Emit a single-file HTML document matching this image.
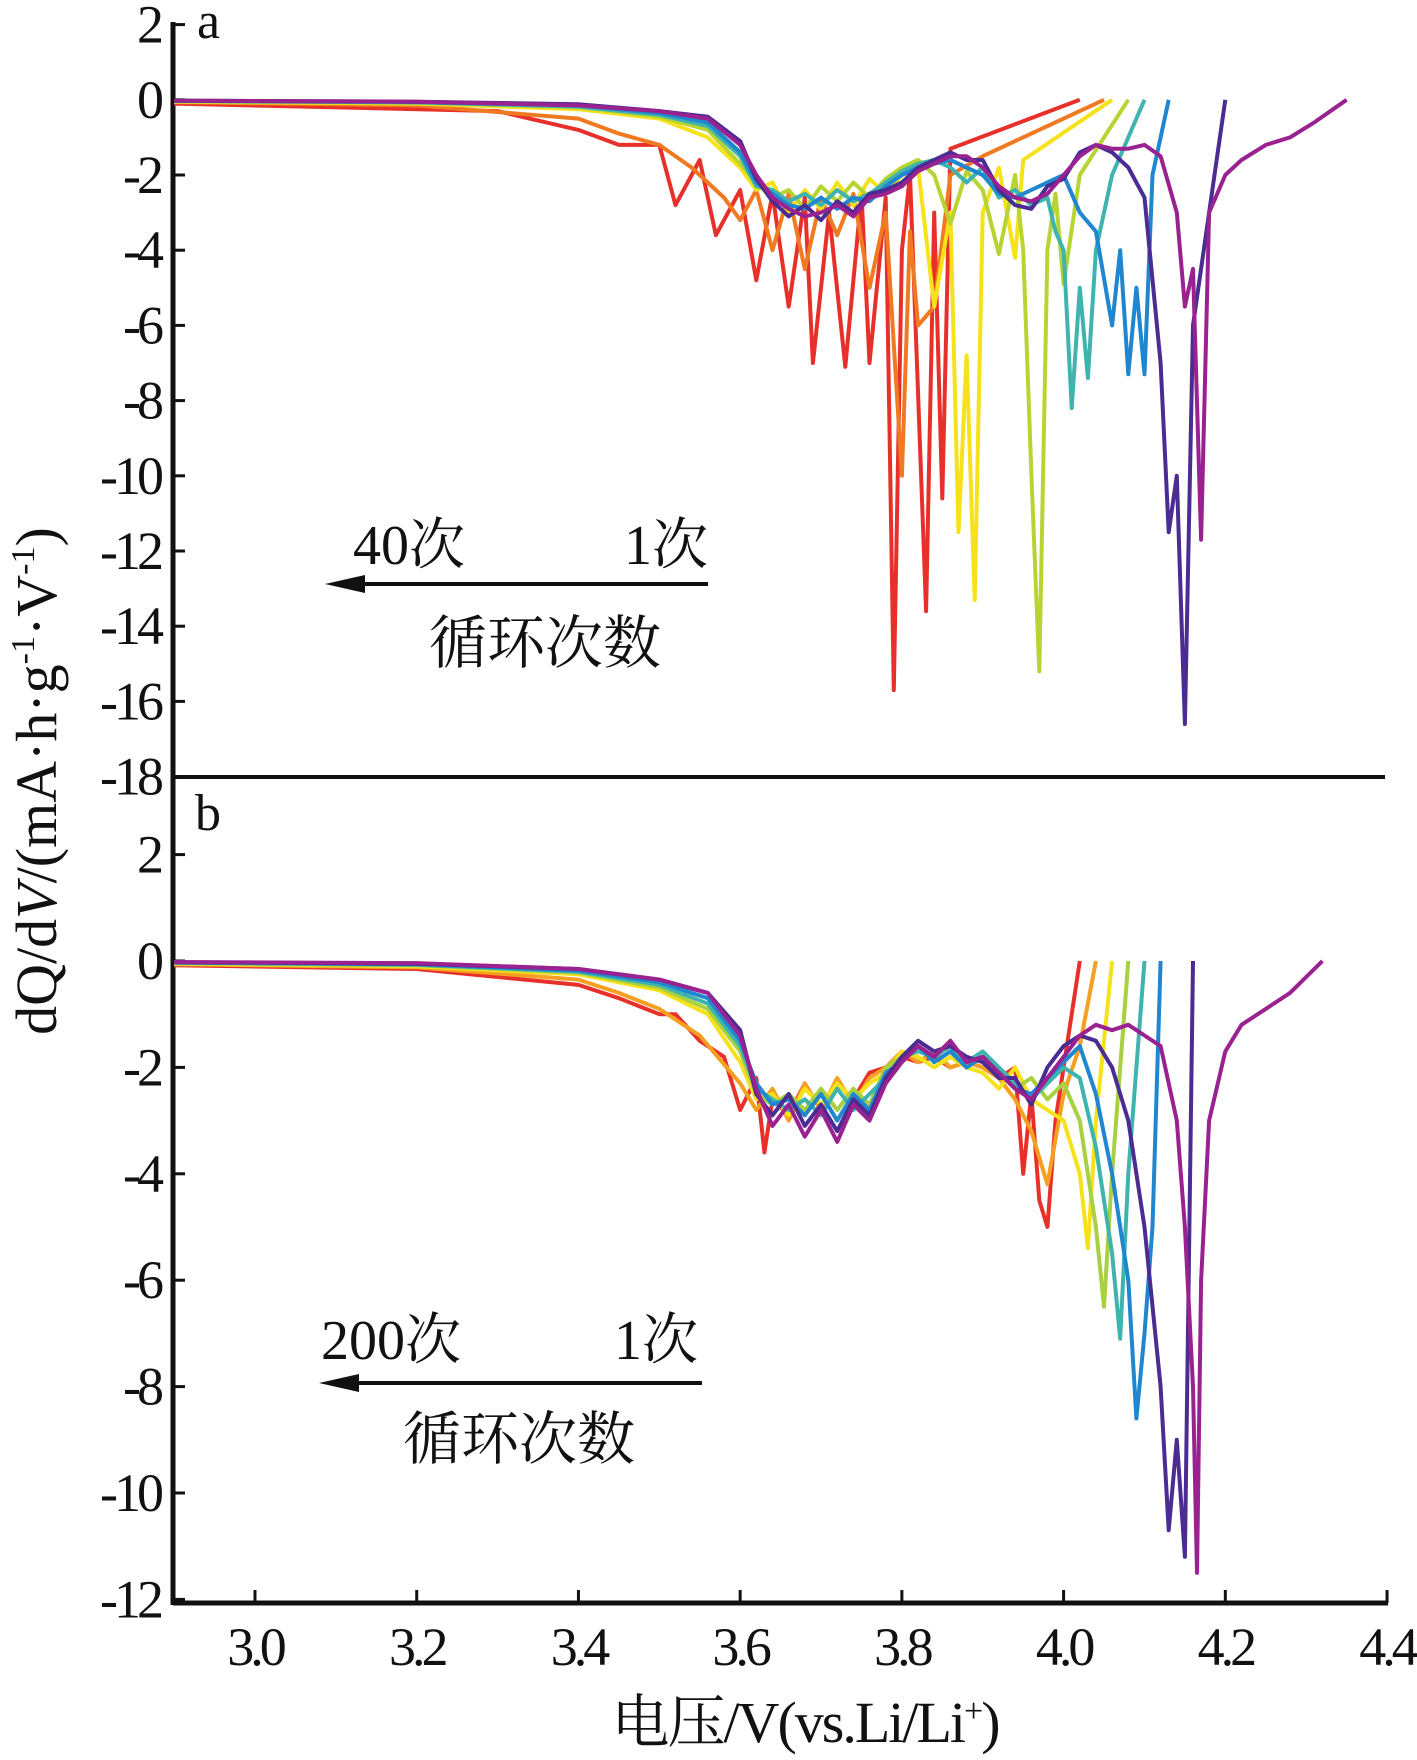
<!DOCTYPE html>
<html><head><meta charset="utf-8"><style>
body{margin:0;background:#fff}
svg{display:block}
text{font-family:"Liberation Serif","Noto Serif CJK SC",serif;fill:#111}
</style></head><body>
<svg id="chart" width="1417" height="1760" viewBox="0 0 1417 1760" xmlns="http://www.w3.org/2000/svg">
<g id="axes"></g>
<g id="series"></g>
<g id="labels"></g>
</svg>
<script>
// ---- data ----
const xTicks = [3.0, 3.2, 3.4, 3.6, 3.8, 4.0, 4.2, 4.4];
const yTicksA = [2, 0, -2, -4, -6, -8, -10, -12, -14, -16, -18];
const yTicksB = [2, 0, -2, -4, -6, -8, -10, -12];

// panel a (cycles 1 -> 40)
const aPurpleV = [2.9,3.2,3.4,3.5,3.56,3.6,3.62,3.64,3.66,3.68,3.7,3.72,3.74,3.76,3.78,3.8,3.82,3.84,3.86,3.88,3.9,3.92,3.94,3.96,3.98,4.0,4.02,4.04,4.06,4.08,4.1,4.12,4.14,4.15,4.16,4.17,4.18,4.2,4.22,4.25,4.28,4.31,4.35];
const aPurpleY = [-0.02,-0.05,-0.15,-0.3,-0.5,-1.2,-2.0,-2.6,-2.9,-3.1,-3.0,-2.8,-3.1,-2.6,-2.5,-2.3,-1.9,-1.7,-1.5,-1.5,-1.8,-2.3,-2.6,-2.7,-2.5,-2.0,-1.5,-1.2,-1.3,-1.3,-1.2,-1.5,-3.0,-5.5,-4.5,-11.7,-3.0,-2.0,-1.6,-1.2,-1.0,-0.6,0];
const aIndigoV = [2.9,3.2,3.4,3.5,3.56,3.6,3.62,3.64,3.66,3.68,3.7,3.72,3.74,3.76,3.78,3.8,3.82,3.84,3.86,3.88,3.9,3.92,3.94,3.96,3.98,4.0,4.02,4.04,4.06,4.08,4.1,4.12,4.13,4.14,4.15,4.16,4.18,4.2];
const aIndigoY = [-0.02,-0.05,-0.12,-0.3,-0.45,-1.1,-2.1,-2.7,-3.1,-2.8,-3.2,-2.7,-3.0,-2.5,-2.4,-2.2,-1.8,-1.6,-1.4,-1.6,-1.6,-2.4,-2.8,-2.9,-2.3,-2.1,-1.4,-1.2,-1.4,-1.8,-2.6,-7.0,-11.5,-10.0,-16.6,-6.0,-3.0,0];
const aBlueV = [2.9,3.2,3.4,3.5,3.56,3.6,3.62,3.64,3.66,3.68,3.7,3.72,3.74,3.76,3.78,3.8,3.82,3.84,3.86,3.88,3.9,3.92,3.94,3.96,3.98,4.0,4.02,4.04,4.06,4.07,4.08,4.09,4.1,4.11,4.12,4.13];
const aBlueY = [-0.03,-0.06,-0.15,-0.35,-0.6,-1.4,-2.2,-2.5,-2.8,-2.9,-2.6,-2.9,-2.6,-2.7,-2.3,-2.0,-1.8,-1.7,-1.6,-1.8,-2.0,-2.5,-2.6,-2.4,-2.2,-2.0,-3.0,-3.5,-6.0,-4.0,-7.3,-5.0,-7.3,-2.0,-1.0,0];
const aTealV = [2.9,3.2,3.4,3.5,3.56,3.6,3.62,3.64,3.66,3.68,3.7,3.72,3.74,3.76,3.78,3.8,3.82,3.84,3.86,3.88,3.9,3.92,3.94,3.96,3.98,3.99,4.0,4.01,4.02,4.03,4.04,4.06,4.08,4.1];
const aTealY = [-0.03,-0.07,-0.18,-0.4,-0.7,-1.5,-2.3,-2.4,-2.7,-2.5,-2.8,-2.4,-2.7,-2.5,-2.2,-1.9,-1.7,-1.6,-1.8,-2.2,-1.8,-2.6,-2.4,-2.8,-2.6,-3.5,-4.0,-8.2,-5.0,-7.4,-4.0,-2.0,-1.0,0];
const aLimeV = [2.9,3.2,3.4,3.5,3.56,3.6,3.62,3.64,3.66,3.68,3.7,3.72,3.74,3.76,3.78,3.8,3.82,3.84,3.86,3.88,3.9,3.92,3.94,3.95,3.96,3.97,3.98,3.99,4.0,4.02,4.05,4.08];
const aLimeY = [-0.04,-0.08,-0.2,-0.45,-0.8,-1.7,-2.2,-2.6,-2.4,-2.9,-2.3,-2.7,-2.2,-2.6,-2.1,-1.8,-1.6,-2.0,-3.3,-1.9,-2.4,-4.1,-2.0,-4.0,-9.9,-15.2,-4.0,-2.5,-4.9,-2.0,-1.0,0];
const aYellowV = [2.9,3.2,3.4,3.5,3.56,3.6,3.62,3.64,3.66,3.68,3.7,3.72,3.74,3.76,3.78,3.8,3.82,3.84,3.86,3.87,3.88,3.89,3.9,3.92,3.94,3.95,4.06];
const aYellowY = [-0.05,-0.1,-0.25,-0.5,-1.0,-1.8,-2.4,-2.2,-3.0,-2.4,-2.9,-2.2,-2.8,-2.1,-2.5,-2.0,-1.8,-5.5,-3.0,-11.5,-6.8,-13.3,-3.0,-1.8,-4.2,-1.6,0];
const aOrangeV = [2.9,3.2,3.4,3.45,3.5,3.54,3.58,3.6,3.62,3.64,3.66,3.68,3.7,3.72,3.74,3.76,3.78,3.8,3.81,3.82,3.84,3.86,3.9,4.05];
const aOrangeY = [-0.06,-0.15,-0.5,-0.9,-1.2,-1.8,-2.6,-3.2,-2.4,-4.0,-2.5,-4.5,-2.6,-3.6,-2.5,-5.0,-3.0,-10.0,-3.5,-6.0,-5.5,-2.0,-1.5,0];
const aRedV = [2.9,3.3,3.4,3.45,3.5,3.52,3.55,3.57,3.6,3.62,3.64,3.66,3.68,3.69,3.71,3.73,3.75,3.76,3.78,3.79,3.8,3.81,3.83,3.84,3.85,3.86,4.02];
const aRedY = [-0.1,-0.3,-0.8,-1.2,-1.2,-2.8,-1.6,-3.6,-2.4,-4.8,-2.5,-5.5,-2.6,-7.0,-3.0,-7.1,-2.5,-7.0,-2.6,-15.7,-4.0,-2.0,-13.6,-3.0,-10.6,-1.3,0];

// panel b (cycles 1 -> 200)
const bPurpleV = [2.9,3.2,3.4,3.5,3.56,3.6,3.62,3.64,3.66,3.68,3.7,3.72,3.74,3.76,3.78,3.8,3.82,3.84,3.86,3.88,3.9,3.92,3.94,3.96,3.98,4.0,4.02,4.04,4.06,4.08,4.1,4.12,4.14,4.15,4.16,4.165,4.17,4.18,4.2,4.22,4.25,4.28,4.32];
const bPurpleY = [-0.02,-0.04,-0.15,-0.35,-0.6,-1.4,-2.4,-3.1,-2.7,-3.3,-2.8,-3.4,-2.7,-3.0,-2.3,-1.9,-1.6,-1.8,-1.5,-1.9,-1.8,-2.1,-2.4,-2.6,-2.2,-1.8,-1.4,-1.2,-1.3,-1.2,-1.4,-1.6,-3.0,-5.0,-8.0,-11.5,-6.0,-3.0,-1.7,-1.2,-0.9,-0.6,0];
const bIndigoV = [2.9,3.2,3.4,3.5,3.56,3.6,3.62,3.64,3.66,3.68,3.7,3.72,3.74,3.76,3.78,3.8,3.82,3.84,3.86,3.88,3.9,3.92,3.94,3.96,3.98,4.0,4.02,4.04,4.06,4.08,4.1,4.12,4.13,4.14,4.15,4.16];
const bIndigoY = [-0.02,-0.05,-0.15,-0.35,-0.6,-1.3,-2.5,-2.9,-2.5,-3.1,-2.7,-3.2,-2.6,-2.9,-2.2,-1.8,-1.5,-1.7,-1.6,-1.8,-1.9,-2.2,-2.2,-2.7,-2.0,-1.6,-1.4,-1.5,-2.0,-3.0,-5.0,-8.0,-10.7,-9.0,-11.2,0];
const bBlueV = [2.9,3.2,3.4,3.5,3.56,3.6,3.62,3.64,3.66,3.68,3.7,3.72,3.74,3.76,3.78,3.8,3.82,3.84,3.86,3.88,3.9,3.92,3.94,3.96,3.98,4.0,4.02,4.04,4.06,4.08,4.09,4.1,4.11,4.12];
const bBlueY = [-0.03,-0.06,-0.18,-0.4,-0.7,-1.5,-2.3,-2.7,-2.6,-2.9,-2.5,-3.0,-2.5,-2.8,-2.1,-1.9,-1.6,-1.9,-1.7,-2.0,-1.8,-2.1,-2.4,-2.5,-2.2,-1.9,-1.6,-2.5,-4.0,-6.0,-8.6,-7.0,-5.0,0];
const bTealV = [2.9,3.2,3.4,3.5,3.56,3.6,3.62,3.64,3.66,3.68,3.7,3.72,3.74,3.76,3.78,3.8,3.82,3.84,3.86,3.88,3.9,3.92,3.94,3.96,3.98,4.0,4.02,4.04,4.06,4.07,4.08,4.1];
const bTealY = [-0.03,-0.07,-0.2,-0.45,-0.8,-1.6,-2.4,-2.6,-2.8,-2.6,-2.9,-2.4,-2.8,-2.5,-2.2,-1.8,-1.7,-1.8,-1.6,-1.9,-1.7,-2.0,-2.3,-2.6,-2.3,-2.0,-2.2,-3.5,-5.5,-7.1,-4.0,0];
const bGreenV = [2.9,3.2,3.4,3.5,3.56,3.6,3.62,3.64,3.66,3.68,3.7,3.72,3.74,3.76,3.78,3.8,3.82,3.84,3.86,3.88,3.9,3.92,3.94,3.96,3.98,4.0,4.02,4.04,4.05,4.06,4.08];
const bGreenY = [-0.04,-0.08,-0.22,-0.5,-0.9,-1.7,-2.5,-2.7,-2.5,-2.8,-2.4,-2.8,-2.4,-2.7,-2.0,-1.8,-1.6,-1.9,-1.7,-1.9,-1.8,-2.1,-2.4,-2.2,-2.6,-2.3,-3.0,-5.0,-6.5,-4.0,0];
const bYellowV = [2.9,3.2,3.4,3.5,3.56,3.6,3.62,3.64,3.66,3.68,3.7,3.72,3.74,3.76,3.78,3.8,3.82,3.84,3.86,3.88,3.9,3.92,3.94,3.96,3.98,4.0,4.02,4.03,4.04,4.06];
const bYellowY = [-0.05,-0.1,-0.25,-0.55,-1.0,-1.9,-2.6,-2.5,-2.9,-2.4,-2.7,-2.3,-2.6,-2.3,-2.1,-1.7,-1.8,-2.0,-1.8,-2.0,-2.1,-2.4,-2.0,-2.6,-2.8,-3.0,-4.0,-5.4,-3.0,0];
const bOrangeV = [2.9,3.2,3.4,3.45,3.5,3.55,3.6,3.62,3.64,3.66,3.68,3.7,3.72,3.74,3.76,3.78,3.8,3.82,3.84,3.86,3.88,3.9,3.92,3.94,3.96,3.98,4.0,4.02,4.04];
const bOrangeY = [-0.06,-0.12,-0.35,-0.6,-0.9,-1.4,-2.3,-2.8,-2.4,-3.0,-2.3,-2.8,-2.2,-2.7,-2.2,-2.0,-1.7,-1.9,-1.7,-2.0,-1.9,-2.0,-2.2,-2.6,-3.2,-4.2,-2.5,-1.6,0];
const bRedV = [2.9,3.2,3.4,3.45,3.5,3.52,3.55,3.58,3.6,3.62,3.63,3.64,3.66,3.68,3.7,3.72,3.74,3.76,3.78,3.8,3.82,3.84,3.86,3.88,3.9,3.92,3.94,3.95,3.96,3.97,3.98,3.99,4.0,4.02];
const bRedY = [-0.08,-0.15,-0.45,-0.7,-1.0,-1.0,-1.5,-1.8,-2.8,-2.2,-3.6,-2.6,-2.9,-2.3,-2.8,-2.3,-2.6,-2.1,-2.0,-1.8,-1.9,-1.8,-2.0,-1.9,-2.0,-2.2,-2.0,-4.0,-2.5,-4.5,-5.0,-3.0,-2.0,0];

// ---- layout ----
const PX0 = 173;
function sx(v){ return 255 + (v - 3.0) * 808.6; }
function syA(y){ return 24.6 + (2 - y) * 37.6; }
function syB(y){ return 961 + (0 - y) * 53.2; }

const NS = "http://www.w3.org/2000/svg";
function mk(tag, attrs, parent){ const e = document.createElementNS(NS, tag); for (const k in attrs) e.setAttribute(k, attrs[k]); parent.appendChild(e); return e; }
const axes = document.getElementById('axes'), ser = document.getElementById('series'), lab = document.getElementById('labels');

let l = mk('line', {x1:PX0, y1:22, x2:PX0, y2:1605, stroke:'#111', 'stroke-width':5}, axes);


l = mk('line', {x1:PX0, y1:777, x2:1385, y2:777, stroke:'#111', 'stroke-width':4}, axes);


l = mk('line', {x1:PX0, y1:1603, x2:1388, y2:1603, stroke:'#111', 'stroke-width':5}, axes);



xTicks.forEach(v => {
  const t = mk('line', {x1:sx(v), y1:1590, x2:sx(v), y2:1603, stroke:'#111', 'stroke-width':3}, axes);
  
  
  const tx = mk('text', {x:sx(v), y:1665, 'font-size':54, 'text-anchor':'middle', style:'letter-spacing:-4px'}, axes);
  tx.textContent = v.toFixed(1);
  
  
});
function yAxis(ticks, sy){
  ticks.forEach(v => {
    const t = mk('line', {x1:PX0, y1:sy(v), x2:PX0+12, y2:sy(v), stroke:'#111', 'stroke-width':3}, axes);
    
    
    const tx = mk('text', {x:160, y:sy(v)+18, 'font-size':54, 'text-anchor':'end', style:'letter-spacing:-4px'}, axes);
    tx.textContent = v;
    
    
  });
}
yAxis(yTicksA, syA);
yAxis(yTicksB, syB);

function draw(vs, ys, color, sy, name){
  const d = vs.map((v, i) => (i ? 'L' : 'M') + sx(v).toFixed(1) + ' ' + sy(ys[i]).toFixed(1)).join(' ');
  const p = mk('path', {d:d, fill:'none', stroke:color, 'stroke-width':4, 'stroke-linejoin':'round'}, ser);
  
  
}
draw(aRedV, aRedY, '#e8302a', syA, 'series-a-cycle-40');
draw(aOrangeV, aOrangeY, '#f07a22', syA, 'series-a-orange');
draw(aYellowV, aYellowY, '#f5e21a', syA, 'series-a-yellow');
draw(aLimeV, aLimeY, '#b8d432', syA, 'series-a-lime');
draw(aTealV, aTealY, '#3fb3ae', syA, 'series-a-teal');
draw(aBlueV, aBlueY, '#1f86cf', syA, 'series-a-blue');
draw(aIndigoV, aIndigoY, '#4a2c92', syA, 'series-a-indigo');
draw(aPurpleV, aPurpleY, '#9a2190', syA, 'series-a-cycle-1');

draw(bRedV, bRedY, '#e8302a', syB, 'series-b-cycle-200');
draw(bOrangeV, bOrangeY, '#f5a020', syB, 'series-b-orange');
draw(bYellowV, bYellowY, '#f5e21a', syB, 'series-b-yellow');
draw(bGreenV, bGreenY, '#a8d040', syB, 'series-b-green');
draw(bTealV, bTealY, '#3fb3ae', syB, 'series-b-teal');
draw(bBlueV, bBlueY, '#1f86cf', syB, 'series-b-blue');
draw(bIndigoV, bIndigoY, '#4a2c92', syB, 'series-b-indigo');
draw(bPurpleV, bPurpleY, '#9a2190', syB, 'series-b-cycle-1');

function txt(s, x, y, size, anchor, name, extra){
  const t = mk('text', Object.assign({x:x, y:y, 'font-size':size, 'text-anchor':anchor}, extra || {}), lab);
  t.textContent = s;
  
  
  return t;
}
txt('a', 197, 38, 52, 'start', 'panel-a-label');
txt('b', 195, 830, 52, 'start', 'panel-b-label');
txt('40次', 353, 564, 56, 'start', 'panel-a-cycle-40');
txt('1次', 708, 564, 56, 'end', 'panel-a-cycle-1');
txt('循环次数', 545, 663, 58, 'middle', 'panel-a-cycle-caption');
txt('200次', 321, 1359, 56, 'start', 'panel-b-cycle-200');
txt('1次', 698, 1359, 56, 'end', 'panel-b-cycle-1');
txt('循环次数', 519, 1459, 58, 'middle', 'panel-b-cycle-caption');
function arrow(x1, x2, y, name){
  const g = mk('g', {}, lab);
  
  
  mk('line', {x1:x1, y1:y, x2:x2+30, y2:y, stroke:'#111', 'stroke-width':4}, g);
  mk('polygon', {points:`${x2},${y} ${x2+40},${y-9} ${x2+40},${y+9}`, fill:'#111'}, g);
}
arrow(708, 325, 584, 'panel-a-arrow');
arrow(702, 319, 1383, 'panel-b-arrow');

const xl = txt('电压/V(vs.Li/Li', 805, 1742, 58, 'middle', 'x-axis-title', {style:'letter-spacing:-2px'});
const sup = mk('tspan', {'font-size':34, dy:-20}, xl); sup.textContent = '+';
const cl = mk('tspan', {dy:20}, xl); cl.textContent = ')';

const yl = txt('', 0, 0, 58, 'middle', 'y-axis-title', {transform:'translate(56,781) rotate(-90)'});
[['dQ/d',''],['V','italic'],['/(mA·h·g',''],['-1','sup'],['·V',''],['-1','sup'],[')','']].forEach(p => {
  const ts = mk('tspan', {}, yl);
  ts.textContent = p[0];
  if (p[1] === 'italic') ts.setAttribute('font-style', 'italic');
  if (p[1] === 'sup') { ts.setAttribute('font-size', 34); ts.setAttribute('dy', -22); }
  else if (yl.childNodes.length > 1 && yl.childNodes[yl.childNodes.length-2].getAttribute('font-size') === '34') ts.setAttribute('dy', 22);
});
</script>
</body></html>
